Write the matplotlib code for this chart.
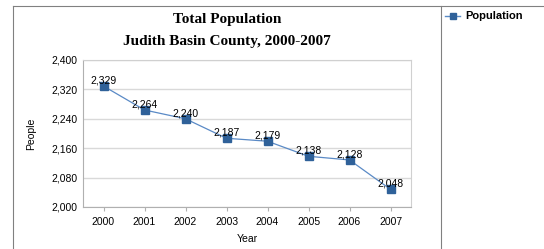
import matplotlib.pyplot as plt
from matplotlib.lines import Line2D

years = ["2000", "2001", "2002", "2003", "2004", "2005", "2006", "2007"]
population = [2329, 2264, 2240, 2187, 2179, 2138, 2128, 2048]
y_ticks = [2000, 2080, 2160, 2240, 2320, 2400]

W, H = 544, 249
fig = plt.figure(figsize=(W / 100, H / 100), dpi=100)
fig.patch.set_facecolor("white")

# outer frame lines (chart area + legend separator)
border = "#808080"
fig.add_artist(Line2D([13 / W, 13 / W], [0, 1 - 6 / H], color=border, lw=0.8))
fig.add_artist(Line2D([13 / W, 1], [1 - 6 / H, 1 - 6 / H], color=border, lw=0.8))
fig.add_artist(Line2D([441 / W, 441 / W], [0, 1 - 6 / H], color=border, lw=0.8))

ax = fig.add_axes([83 / W, 1 - 207 / H, (411 - 83) / W, (207 - 60) / H])
x = list(range(len(years)))
ax.plot(x, population, color="#5A8AC6", lw=0.9, marker="s", markersize=5.5,
        markerfacecolor="#2F6199", markeredgecolor="#2F6199", zorder=3)
for xi, v in zip(x, population):
    ax.annotate(f"{v:,}", (xi, v), xytext=(0, 0.5), textcoords="offset points",
                ha="center", va="bottom", fontsize=7.5, family="Liberation Sans", zorder=4)

ax.set_xlim(-0.5, len(years) - 0.5)
ax.set_ylim(2000, 2400)
ax.set_xticks(x)
ax.set_xticklabels(years)
ax.set_yticks(y_ticks)
ax.set_yticklabels([f"{t:,}" for t in y_ticks])
ax.grid(axis="y", color="#D9D9D9", lw=1.0)
ax.set_axisbelow(True)
for s in ["top", "right"]:
    ax.spines[s].set_color("#D0D0D0")
for s in ["left", "bottom"]:
    ax.spines[s].set_color("#B0B0B0")
for sp in ax.spines.values():
    sp.set_linewidth(0.8)
ax.tick_params(axis="both", labelsize=7.5, length=3, color="#B0B0B0", pad=4)
ax.tick_params(axis="y", length=0, pad=4)
for lab in ax.get_xticklabels() + ax.get_yticklabels():
    lab.set_family("Liberation Sans")

ax.set_xlabel("Year", fontsize=7.5, family="Liberation Sans", labelpad=5)
ax.set_ylabel("People", fontsize=7.5, family="Liberation Sans", labelpad=11)

fig.text(227 / W, 1 - 20 / H, "Total Population", ha="center", va="center",
         fontsize=11, weight="bold", family="Liberation Serif")
fig.text(227 / W, 1 - 42 / H, "Judith Basin County, 2000-2007", ha="center", va="center",
         fontsize=11, weight="bold", family="Liberation Serif")

# legend
fig.add_artist(Line2D([445 / W, 460 / W], [1 - 16 / H, 1 - 16 / H], color="#5A8AC6", lw=1))
fig.add_artist(Line2D([452.5 / W], [1 - 16 / H], marker="s", markersize=5,
                      markerfacecolor="#2F6199", markeredgecolor="#2F6199", lw=0))
fig.text(465 / W, 1 - 16 / H, "Population", ha="left", va="center", fontsize=8,
         weight="bold", family="Liberation Sans")

fig.savefig("out.png", dpi=100)
